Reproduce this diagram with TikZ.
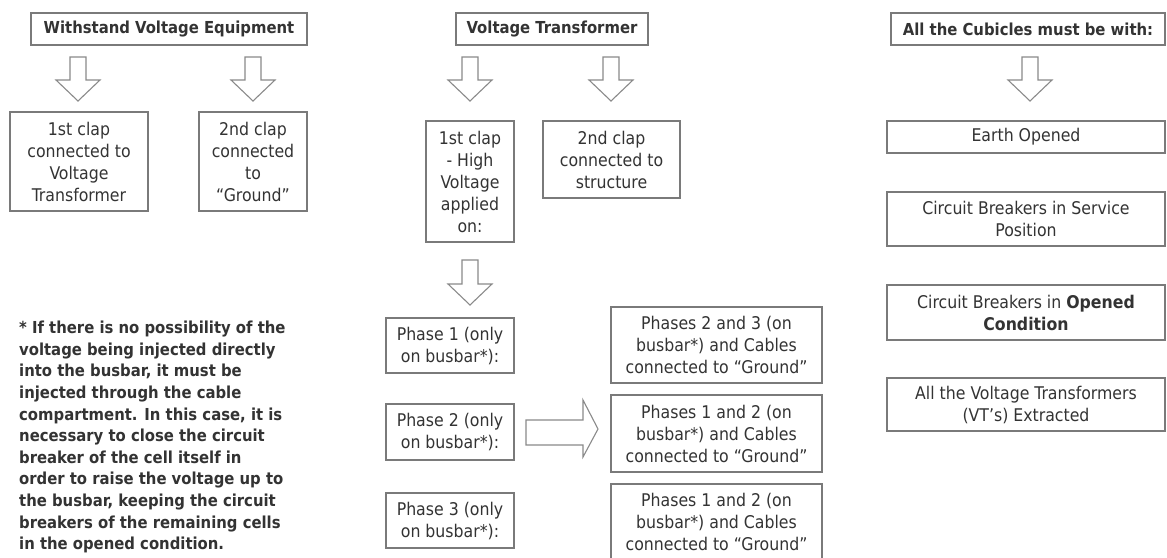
\documentclass[tikz,border=0pt]{standalone}
\usepackage{fontspec}
\setmainfont{DejaVu Sans Condensed}
\definecolor{boxgray}{HTML}{7A7A7A}
\definecolor{arrowgray}{HTML}{8A8A8A}
\definecolor{txt}{HTML}{333333}
\tikzset{
  box/.style={draw=boxgray, line width=1.2pt, fill=white, text=txt, align=center, inner sep=0pt,
    font=\fontsize{17.5}{22}\selectfont},
  titlebox/.style={box, font=\fontsize{16.5}{22}\selectfont\bfseries},
  notetext/.style={text=txt, align=left, inner sep=0pt, font=\fontsize{16.5}{21.6}\selectfont\bfseries},
  blockarrow/.style={draw=arrowgray, line width=1.1pt, fill=white, line join=miter},
}
\newcommand\dnarrow[3]{%
  \draw[blockarrow] (#1-8,#2) -- (#1+8,#2) -- (#1+8,#3-21) -- (#1+22,#3-21) -- (#1,#3)
    -- (#1-22,#3-21) -- (#1-8,#3-21) -- cycle;}
\begin{document}
\begin{tikzpicture}[x=1pt,y=-1pt]
\fill[white] (0,0) rectangle (1167,557);
\useasboundingbox (0,0) rectangle (1167,557);

% ---- titles
\node[titlebox, minimum width=276, minimum height=32] (T1) at (169,29) {Withstand Voltage Equipment};
\node[titlebox, minimum width=192, minimum height=32] (T2) at (552,29) {Voltage Transformer};
\node[titlebox, minimum width=274, minimum height=32] (T3) at (1028,29) {All the Cubicles must be with:};

% ---- left column
\node[box, minimum width=138, minimum height=99] (L1) at (79,161.5) {1st clap\\connected to\\Voltage\\Transformer};
\node[box, minimum width=108, minimum height=99] (L2) at (253,161.5) {2nd clap\\connected\\to\\“Ground”};

% ---- middle column
\node[box, minimum width=88, minimum height=121] (M1) at (470,181.5) {1st clap\\- High\\Voltage\\applied\\on:};
\node[box, minimum width=137, minimum height=77] (M2) at (611.5,159.5) {2nd clap\\connected to\\structure};

\node[box, minimum width=128, minimum height=55] (P1) at (450,345.5) {Phase 1 (only\\on busbar*):};
\node[box, minimum width=128, minimum height=56] (P2) at (450,432) {Phase 2 (only\\on busbar*):};
\node[box, minimum width=128, minimum height=55] (P3) at (450,520.5) {Phase 3 (only\\on busbar*):};

\node[box, minimum width=211, minimum height=76] (Q1) at (716.5,345) {Phases 2 and 3 (on\\busbar*) and Cables\\connected to “Ground”};
\node[box, minimum width=211, minimum height=77] (Q2) at (716.5,433.5) {Phases 1 and 2 (on\\busbar*) and Cables\\connected to “Ground”};
\node[box, minimum width=211, minimum height=76] (Q3) at (716.5,522) {Phases 1 and 2 (on\\busbar*) and Cables\\connected to “Ground”};

% ---- right column
\node[box, minimum width=278, minimum height=32] (R1) at (1026,137) {Earth Opened};
\node[box, minimum width=278, minimum height=54] (R2) at (1026,219) {Circuit Breakers in Service\\Position};
\node[box, minimum width=278, minimum height=55] (R3) at (1026,312.5) {Circuit Breakers in \textbf{Opened}\\\textbf{Condition}};
\node[box, minimum width=278, minimum height=53] (R4) at (1026,404.5) {All the Voltage Transformers\\(VT’s) Extracted};

% ---- note
\node[notetext, anchor=north west] (N) at (19,321) {* If there is no possibility of the\\
voltage being injected directly\\
into the busbar, it must be\\
injected through the cable\\
compartment. In this case, it is\\
necessary to close the circuit\\
breaker of the cell itself in\\
order to raise the voltage up to\\
the busbar, keeping the circuit\\
breakers of the remaining cells\\
in the opened condition.};

% ---- block arrows
\dnarrow{78}{57}{101}
\dnarrow{253}{57}{101}
\dnarrow{470}{57}{101}
\dnarrow{611}{57}{101}
\dnarrow{1030}{57}{101}
\dnarrow{470}{260}{305}
\draw[blockarrow] (526,420) -- (583,420) -- (583,400) -- (598,429) -- (583,457) -- (583,445) -- (526,445) -- cycle;
\end{tikzpicture}
\end{document}
